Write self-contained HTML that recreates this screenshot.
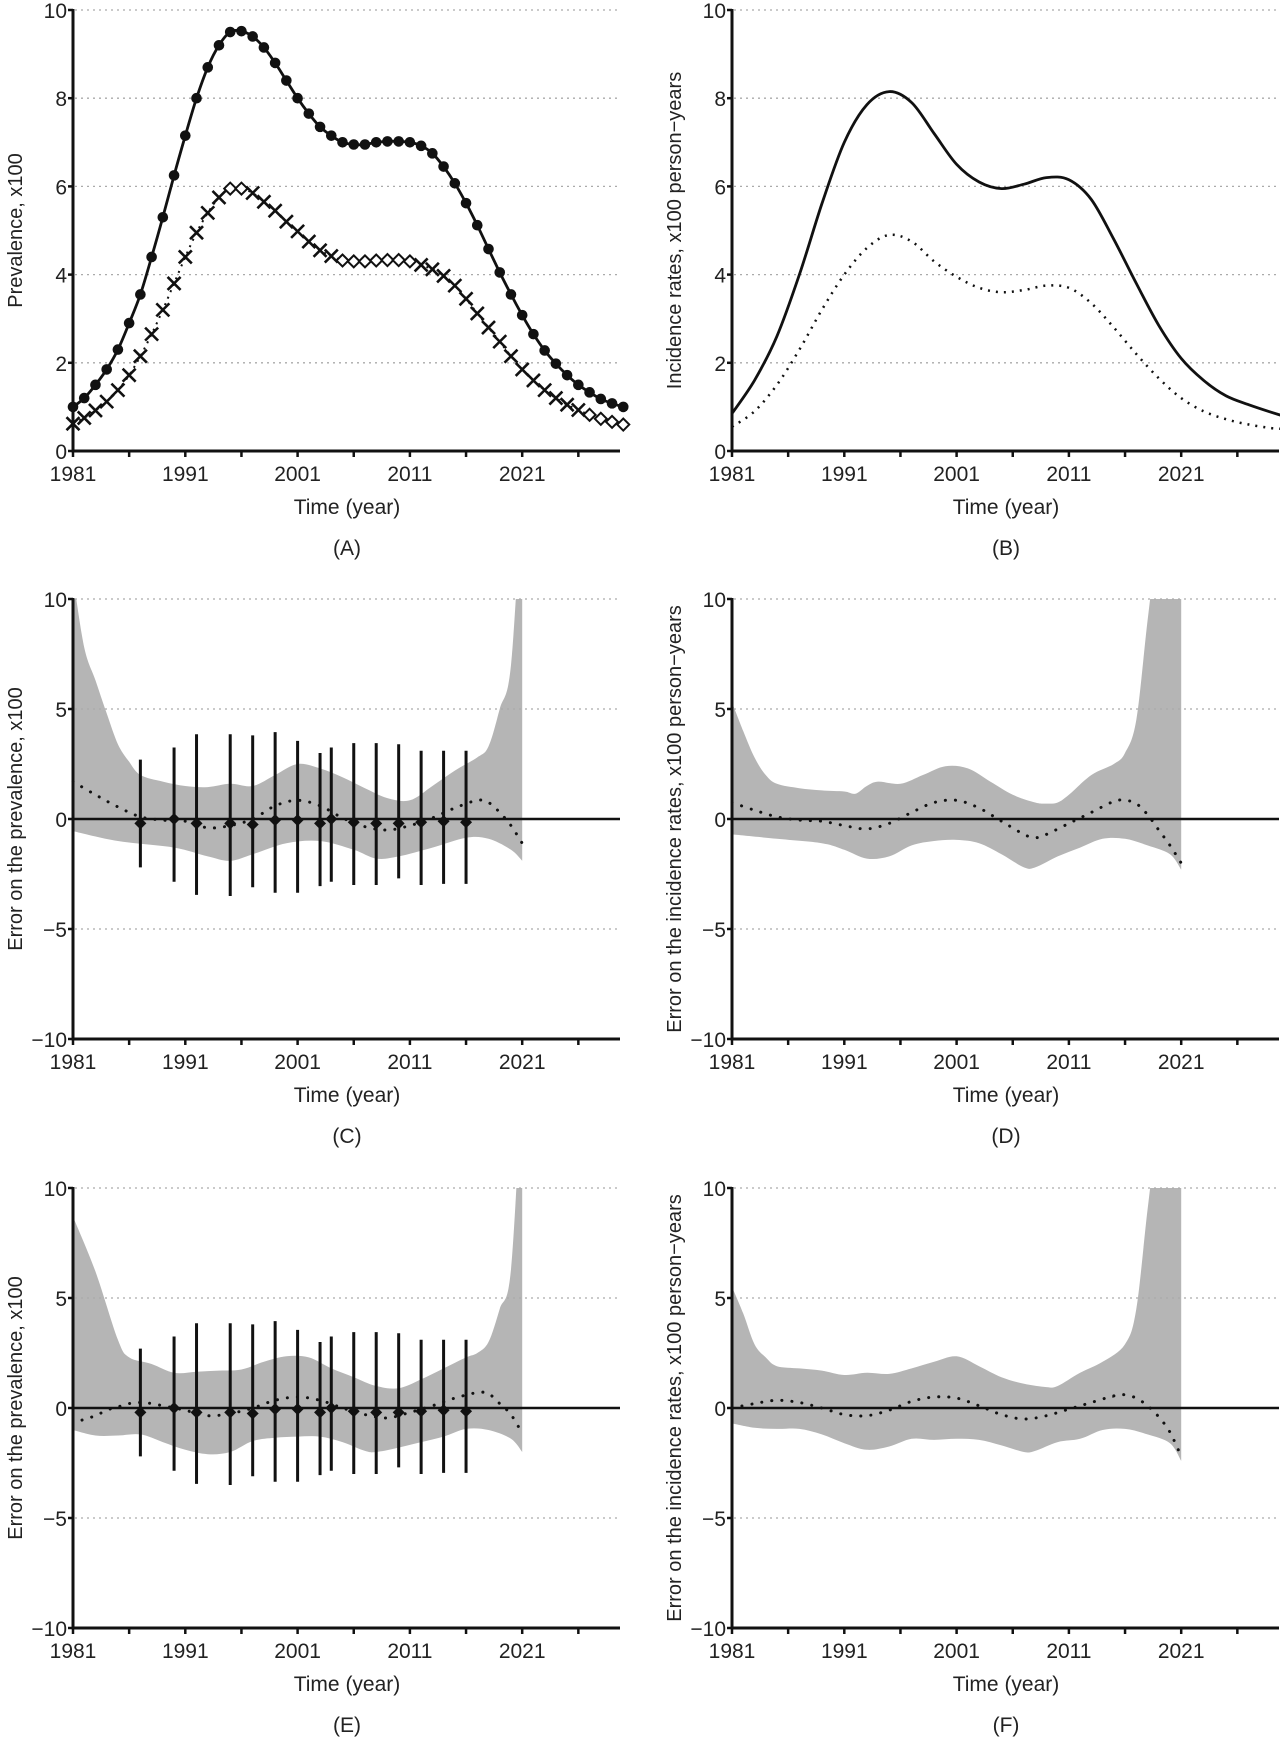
<!DOCTYPE html>
<html><head><meta charset="utf-8"><style>
html,body{margin:0;padding:0;background:#fff;}
svg{display:block;font-family:"Liberation Sans",Arial,sans-serif;}
</style></head><body>
<svg id="fig" width="1280" height="1737" viewBox="0 0 1280 1737" xmlns="http://www.w3.org/2000/svg"></svg>
<script>
// ---------- DATA ----------
const yearsAnnual = [];
for (let y = 1981; y <= 2030; y++) yearsAnnual.push(y);
const prevDots = [1.0,1.2,1.5,1.85,2.3,2.9,3.55,4.4,5.3,6.25,7.15,8.0,8.7,9.2,9.5,9.52,9.4,9.15,8.8,8.4,8.0,7.65,7.35,7.15,7.0,6.95,6.95,7.0,7.02,7.02,7.0,6.92,6.75,6.45,6.07,5.62,5.12,4.58,4.05,3.55,3.08,2.65,2.28,1.98,1.72,1.5,1.33,1.18,1.08,1.0];
const prevCross = [0.62,0.75,0.92,1.12,1.38,1.72,2.15,2.65,3.2,3.8,4.4,4.95,5.4,5.75,5.95,5.95,5.85,5.65,5.45,5.2,4.98,4.75,4.55,4.42,4.32,4.3,4.3,4.32,4.33,4.33,4.3,4.22,4.12,3.97,3.75,3.45,3.12,2.8,2.48,2.15,1.85,1.6,1.38,1.2,1.05,0.93,0.82,0.73,0.66,0.6];
const diamondYears = [1995,1996,2005,2006,2007,2008,2009,2010,2011,2027,2028,2029,2030];

const incYears = [1981,1983,1985,1987,1989,1991,1993,1995,1997,1999,2001,2003,2005,2007,2009,2011,2013,2015,2017,2019,2021,2023,2025,2027,2029,2030];
const incSolid = [0.85,1.6,2.6,4.0,5.6,7.0,7.85,8.15,7.9,7.2,6.5,6.1,5.95,6.05,6.2,6.15,5.7,4.8,3.8,2.85,2.1,1.6,1.25,1.05,0.88,0.8];
const incDotted = [0.55,0.9,1.5,2.3,3.2,4.0,4.6,4.9,4.75,4.3,3.95,3.7,3.6,3.65,3.75,3.7,3.35,2.8,2.2,1.65,1.2,0.9,0.72,0.6,0.52,0.5];

const cBandYears = [1981,1982,1983,1984,1985,1986,1987,1989,1991,1993,1995,1997,1999,2001,2003,2005,2007,2009,2011,2013,2015,2017,2018,2019,2020,2021];
const cUpper = [11,7.8,6.3,4.8,3.4,2.6,2.0,1.7,1.5,1.45,1.6,1.5,2.0,2.5,2.3,1.9,1.4,0.95,0.85,1.5,2.2,2.8,3.3,5.0,7.0,15];
const cLowYears = [1981,1985,1990,1993,1995,1997,2000,2003,2006,2008,2010,2013,2016,2018,2020,2021];
const cLower = [-0.55,-1.0,-1.3,-1.7,-1.9,-1.6,-1.1,-1.0,-1.4,-1.8,-1.7,-1.3,-0.85,-0.9,-1.4,-1.9];
const cDotYears = [1981,1983,1985,1987,1989,1991,1993,1995,1997,1999,2001,2003,2005,2007,2009,2011,2013,2015,2017,2018,2019,2020,2021];
const cDotted = [1.7,1.1,0.55,0.1,-0.05,-0.1,-0.4,-0.3,0.0,0.6,0.85,0.6,0.05,-0.35,-0.5,-0.3,0.05,0.5,0.85,0.75,0.3,-0.3,-1.1];

const ebYears = [1987,1990,1992,1995,1997,1999,2001,2003,2004,2006,2008,2010,2012,2014,2016];
const ebCenter = [-0.2,0,-0.2,-0.2,-0.25,-0.05,-0.05,-0.2,0,-0.15,-0.2,-0.2,-0.15,-0.1,-0.15];
const ebHigh = [2.7,3.25,3.85,3.85,3.8,3.95,3.55,3.0,3.25,3.45,3.45,3.4,3.1,3.1,3.1];
const ebLow = [-2.2,-2.85,-3.45,-3.5,-3.1,-3.35,-3.35,-3.05,-2.85,-3.0,-3.0,-2.7,-3.0,-2.95,-2.95];

const dUpYears = [1981,1982,1983,1984,1985,1987,1989,1991,1992,1993,1994,1996,1998,2000,2002,2004,2006,2008,2009,2010,2011,2013,2015,2016,2017,2018,2019,2020,2021];
const dUpper = [5.3,4.0,2.8,2.0,1.6,1.4,1.3,1.25,1.15,1.5,1.7,1.6,2.0,2.4,2.3,1.7,1.1,0.75,0.7,0.75,1.1,2.0,2.5,3.0,4.5,9,13,15,15];
const dLowYears = [1981,1985,1989,1991,1993,1995,1997,1999,2001,2003,2005,2007,2008,2010,2012,2014,2016,2018,2020,2021];
const dLower = [-0.7,-0.9,-1.1,-1.4,-1.8,-1.7,-1.2,-1.0,-0.95,-1.1,-1.6,-2.2,-2.2,-1.7,-1.3,-0.9,-0.9,-1.2,-1.6,-2.3];
const dDotYears = [1981,1983,1985,1987,1989,1991,1993,1995,1997,1999,2001,2003,2005,2007,2008,2009,2011,2013,2015,2016,2017,2018,2019,2020,2021];
const dDotted = [0.75,0.4,0.1,-0.05,-0.1,-0.3,-0.45,-0.2,0.3,0.75,0.85,0.5,-0.1,-0.7,-0.85,-0.7,-0.2,0.3,0.8,0.85,0.7,0.2,-0.5,-1.2,-2.0];

const eBandYears = [1981,1983,1985,1986,1988,1990,1992,1994,1996,1998,2000,2002,2004,2006,2008,2010,2012,2014,2016,2017,2018,2019,2020,2021];
const eUpper = [8.7,6.2,3.1,2.3,2.0,1.6,1.65,1.7,1.75,2.1,2.35,2.3,1.8,1.4,1.0,0.9,1.3,1.8,2.3,2.5,3.0,4.5,6.3,15];
const eLowYears = [1981,1983,1985,1987,1989,1991,1993,1995,1997,1999,2001,2003,2005,2007,2008,2010,2012,2014,2016,2018,2020,2021];
const eLower = [-1.0,-1.25,-1.25,-1.2,-1.55,-1.9,-2.1,-2.0,-1.5,-1.35,-1.3,-1.3,-1.55,-1.95,-2.0,-1.8,-1.55,-1.3,-0.95,-1.0,-1.4,-2.0];
const eDotYears = [1981.8,1983,1984,1985,1986,1987,1988,1990,1991,1993,1995,1997,1999,2001,2003,2005,2007,2009,2011,2013,2015,2017,2018,2019,2020,2021];
const eDotted = [-0.55,-0.35,-0.1,0.05,0.2,0.25,0.2,0.0,-0.1,-0.35,-0.25,0.0,0.35,0.5,0.35,0.0,-0.3,-0.45,-0.2,0.1,0.45,0.7,0.65,0.2,-0.3,-1.15];

const fUpYears = [1981,1982,1983,1984,1985,1987,1989,1991,1993,1995,1997,1999,2001,2003,2005,2007,2009,2010,2012,2014,2016,2017,2018,2019,2020,2021];
const fUpper = [5.5,4.3,2.9,2.3,1.9,1.8,1.7,1.5,1.6,1.55,1.8,2.1,2.35,1.9,1.4,1.1,0.95,1.0,1.6,2.1,2.9,4.5,9,13,15,15];
const fLowYears = [1981,1983,1985,1987,1989,1991,1993,1995,1997,1999,2001,2003,2005,2007,2008,2010,2012,2014,2016,2018,2020,2021];
const fLower = [-0.7,-0.9,-0.95,-0.95,-1.2,-1.6,-1.9,-1.75,-1.4,-1.45,-1.4,-1.45,-1.7,-2.0,-1.95,-1.55,-1.4,-1.0,-0.95,-1.2,-1.6,-2.4];
const fDotYears = [1981,1983,1985,1987,1989,1991,1993,1995,1997,1999,2001,2003,2005,2007,2009,2011,2013,2015,2016,2017,2018,2019,2020,2021];
const fDotted = [0.0,0.2,0.35,0.25,0.0,-0.3,-0.35,-0.1,0.3,0.5,0.45,0.1,-0.3,-0.5,-0.35,-0.05,0.25,0.55,0.6,0.45,0.1,-0.4,-1.1,-2.2];

const xTickLabels = ["1981","1991","2001","2011","2021"];
const aYTicks = [0,2,4,6,8,10];
const cYTicks = [-10,-5,0,5,10];

// ---------- HELPERS ----------
const NS = "http://www.w3.org/2000/svg";
const svg = document.getElementById("fig");
function el(tag, attrs, parent) {
  const e = document.createElementNS(NS, tag);
  for (const k in attrs) e.setAttribute(k, attrs[k]);
  (parent || svg).appendChild(e);
  return e;
}
const PXY = 11.23, AXLEN = 547;
function makePanel(left, top, bottom, ymin, ymax) {
  return {
    left, top, bottom, ymin, ymax, right: left + AXLEN,
    x: yr => left + (yr - 1981) * PXY,
    y: v => bottom - (v - ymin) / (ymax - ymin) * (bottom - top)
  };
}
function smoothPath(P, xs, ys) {
  const pts = xs.map((x, i) => [P.x(x), P.y(ys[i])]);
  let d = "M" + pts[0][0].toFixed(1) + "," + pts[0][1].toFixed(1);
  for (let i = 0; i < pts.length - 1; i++) {
    const p0 = pts[i - 1] || pts[i], p1 = pts[i], p2 = pts[i + 1], p3 = pts[i + 2] || p2;
    const c1 = [p1[0] + (p2[0] - p0[0]) / 6, p1[1] + (p2[1] - p0[1]) / 6];
    const c2 = [p2[0] - (p3[0] - p1[0]) / 6, p2[1] - (p3[1] - p1[1]) / 6];
    d += " C" + c1[0].toFixed(1) + "," + c1[1].toFixed(1) + " " + c2[0].toFixed(1) + "," + c2[1].toFixed(1) + " " + p2[0].toFixed(1) + "," + p2[1].toFixed(1);
  }
  return d;
}
function bandPath(P, ux, uy, lx, ly) {
  const up = smoothPath(P, ux, uy);
  const rx = lx.slice().reverse(), ry = ly.slice().reverse();
  const lo = smoothPath(P, rx, ry).replace(/^M/, "L");
  return up + " " + lo + " Z";
}
function axes(P, name, yTicks, grid, yLabel, panelLabel, zeroLine) {
  const g = el("g", {});
  
  
  grid.forEach(v => {
    const l = el("line", {x1: P.left + 2, x2: P.right, y1: P.y(v), y2: P.y(v), stroke: "#aaa", "stroke-width": 1.3, "stroke-dasharray": "2 4"}, g);
    
    
  });
  if (zeroLine) {
    const z = el("line", {x1: P.left, x2: P.right, y1: P.y(0), y2: P.y(0), stroke: "#111", "stroke-width": 2.6}, g);
    
    
  }
  const ya = el("line", {x1: P.left, x2: P.left, y1: P.top - 1, y2: P.bottom + 1.5, stroke: "#111", "stroke-width": 3}, g);
  
  
  const xa = el("line", {x1: P.left - 1.5, x2: P.right, y1: P.bottom, y2: P.bottom, stroke: "#111", "stroke-width": 3}, g);
  
  
  for (let yr = 1981; yr <= 2026; yr += 5) {
    const t = el("line", {x1: P.x(yr), x2: P.x(yr), y1: P.bottom, y2: P.bottom + 6, stroke: "#111", "stroke-width": 2.5}, g);
    
    
  }
  xTickLabels.forEach(s => {
    const t = el("text", {x: P.x(+s), y: P.bottom + 30, "font-size": 21, "text-anchor": "middle", fill: "#222"}, g);
    t.textContent = s;
    
    
  });
  yTicks.forEach(v => {
    const tk = el("line", {x1: P.left - 5, x2: P.left, y1: P.y(v), y2: P.y(v), stroke: "#111", "stroke-width": 2.5}, g);
    
    
    const t = el("text", {x: P.left - 6, y: P.y(v) + 8, "font-size": 21, "text-anchor": "end", fill: "#222"}, g);
    t.textContent = v < 0 ? "\u2212" + Math.abs(v) : String(v);
    
    
  });
  const cx = P.left + 274;
  const xt = el("text", {x: cx, y: P.bottom + 63, "font-size": 21, "text-anchor": "middle", fill: "#222"}, g);
  xt.textContent = "Time (year)";
  
  
  const pl = el("text", {x: cx, y: P.bottom + 104, "font-size": 21, "text-anchor": "middle", fill: "#222"}, g);
  pl.textContent = panelLabel;
  
  
  const my = (P.top + P.bottom) / 2, lx = P.left - 51;
  const yt = el("text", {x: lx, y: my, "font-size": 20, "text-anchor": "middle", fill: "#222", transform: "rotate(-90 " + lx + " " + my + ")"}, g);
  yt.textContent = yLabel;
  
  
}
function clip(P, id) {
  const c = el("clipPath", {id});
  el("rect", {x: P.left, y: P.top, width: P.right - P.left, height: P.bottom - P.top}, c);
  return "url(#" + id + ")";
}

// ---------- PANEL A ----------
const PA = makePanel(73, 10, 451, 0, 10);
axes(PA, "panel-a", aYTicks, [2,4,6,8,10], "Prevalence, x100", "(A)", false);
const aSolid = el("path", {d: smoothPath(PA, yearsAnnual, prevDots), fill: "none", stroke: "#111", "stroke-width": 2.8});


const aDot = el("path", {d: smoothPath(PA, yearsAnnual, prevCross), fill: "none", stroke: "#111", "stroke-width": 2, "stroke-dasharray": "2 5"});


yearsAnnual.forEach((yr, i) => {
  const c = el("circle", {cx: PA.x(yr), cy: PA.y(prevDots[i]), r: 5.3, fill: "#111"});
  
  
  const x = PA.x(yr), y = PA.y(prevCross[i]), s = 6.5;
  if (diamondYears.includes(yr)) {
    const dm = el("path", {d: `M${x - 6},${y} L${x},${y - 6} L${x + 6},${y} L${x},${y + 6} Z`, fill: "#fff", stroke: "#111", "stroke-width": 2});
    
    
  } else {
    const cr = el("path", {d: `M${x - s},${y - s} L${x + s},${y + s} M${x - s},${y + s} L${x + s},${y - s}`, stroke: "#111", "stroke-width": 2.6, fill: "none"});
    
    
  }
});

// ---------- PANEL B ----------
const PB = makePanel(732, 10, 451, 0, 10);
axes(PB, "panel-b", aYTicks, [2,4,6,8,10], "Incidence rates, x100 person\u2212years", "(B)", false);
const bS = el("path", {d: smoothPath(PB, incYears, incSolid), fill: "none", stroke: "#111", "stroke-width": 2.8});


const bD = el("path", {d: smoothPath(PB, incYears, incDotted), fill: "none", stroke: "#111", "stroke-width": 2.5, "stroke-dasharray": "2 6"});



// ---------- ERROR PANELS ----------
function errPanel(P, id, ux, uy, lx, ly, dx, dy, bars, yLabel, label) {
  const cp = clip(P, id);
  const band = el("path", {d: bandPath(P, ux, uy, lx, ly), fill: "#b5b5b5", "clip-path": cp});
  
  
  axes(P, id, cYTicks, [-5,5,10], yLabel, label, true);
  const dl = el("path", {d: smoothPath(P, dx, dy), fill: "none", stroke: "#111", "stroke-width": 3, "stroke-dasharray": "0.1 10", "stroke-linecap": "round"});
  
  
  if (bars) {
    ebYears.forEach((yr, i) => {
      const x = P.x(yr);
      const b = el("line", {x1: x, x2: x, y1: P.y(ebHigh[i]), y2: P.y(ebLow[i]), stroke: "#111", "stroke-width": 3});
      
      
      const y = P.y(ebCenter[i]);
      const m = el("path", {d: `M${x - 6},${y} L${x},${y - 6} L${x + 6},${y} L${x},${y + 6} Z`, fill: "#111"});
      
      
    });
  }
}
errPanel(makePanel(73, 599, 1039, -10, 10), "panel-c", cBandYears, cUpper, cLowYears, cLower, cDotYears, cDotted, true, "Error on the prevalence, x100", "(C)");
errPanel(makePanel(732, 599, 1039, -10, 10), "panel-d", dUpYears, dUpper, dLowYears, dLower, dDotYears, dDotted, false, "Error on the incidence rates, x100 person\u2212years", "(D)");
errPanel(makePanel(73, 1188, 1628, -10, 10), "panel-e", eBandYears, eUpper, eLowYears, eLower, eDotYears, eDotted, true, "Error on the prevalence, x100", "(E)");
errPanel(makePanel(732, 1188, 1628, -10, 10), "panel-f", fUpYears, fUpper, fLowYears, fLower, fDotYears, fDotted, false, "Error on the incidence rates, x100 person\u2212years", "(F)");
</script>
</body></html>
